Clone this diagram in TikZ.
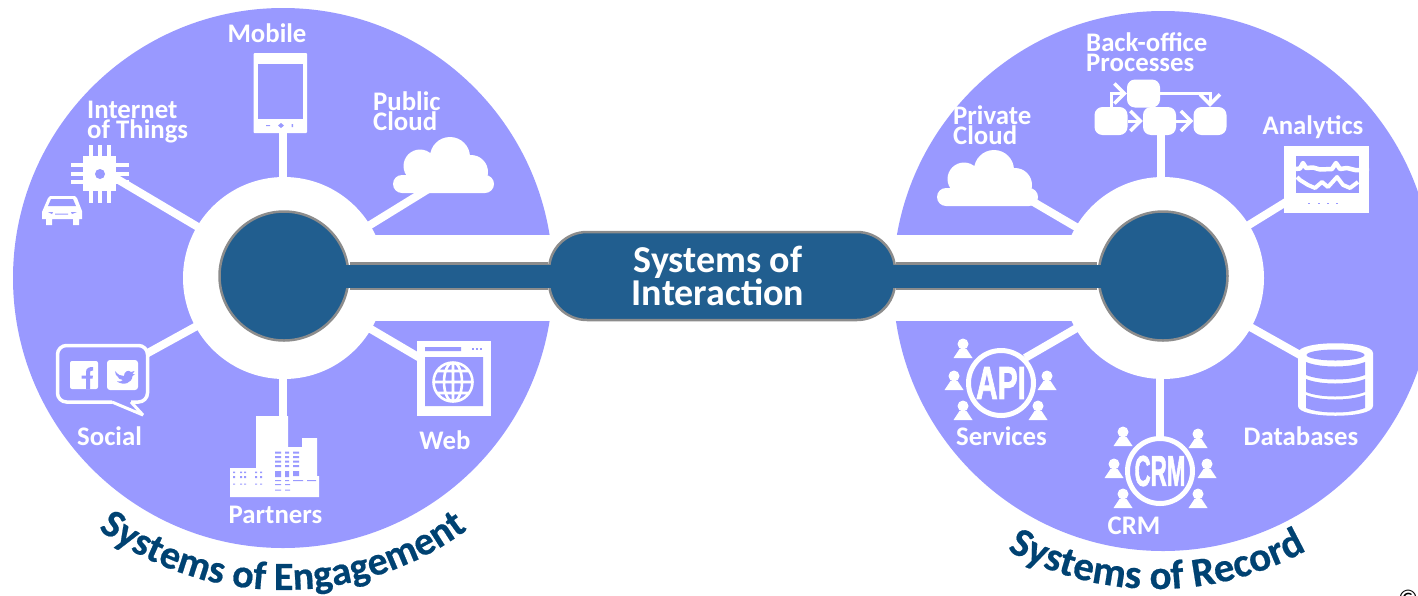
\documentclass[tikz,border=0pt]{standalone}
\usepackage{fontspec}
\usepackage{graphicx}
\setmainfont{Carlito}
\newfontfamily\capsfont[BoldFeatures={FakeBold=2}]{Liberation Sans}
\newfontfamily\titlefont[BoldFeatures={FakeBold=0.5}]{Carlito}
\usetikzlibrary{decorations.text,arrows.meta}
\definecolor{lav}{HTML}{9999FF}
\definecolor{hubblue}{HTML}{215E8F}
\definecolor{casing}{HTML}{8C8C8C}
\definecolor{titleblue}{HTML}{004272}
\tikzset{
  disc/.style={circle,fill=lav,minimum size=540pt,inner sep=0pt},
  ring/.style={circle,fill=white,minimum size=202pt,inner sep=0pt},
  hub/.style={circle,fill=hubblue,draw=casing,line width=2.5pt,minimum size=129pt,inner sep=0pt},
  spoke/.style={draw=white,line width=8pt},
  lbl/.style={text=white,inner sep=0pt,align=left,font=\fontsize{26.8}{20}\selectfont\bfseries},
  flowbox/.style={rectangle,fill=white,rounded corners=8pt,minimum width=33pt,minimum height=28pt,inner sep=0pt},
  flowarrow/.style={draw=white,line width=3pt,-{Straight Barb[length=10pt,width=20pt,line width=3.5pt]}},
  badge/.style={circle,draw=white,line width=5pt,minimum size=66pt,inner sep=0pt,text=white},
  curved/.style={decorate,decoration={text along path,text align={center},text color=titleblue}},
}
\newcommand{\cloudicon}[2]{%
  \begin{scope}[shift={(#1,#2)}]
    \fill[white] (9,-9) circle[radius=9pt] (27,-27) circle[radius=16.5pt] (57,-36) circle[radius=20pt]
      (78,-21) circle[radius=17pt] (92,-9) circle[radius=9pt] (9,-18) rectangle (92,0) (30,-30) rectangle (78,-15);
  \end{scope}}
\newcommand{\personicon}[2]{%
  \fill[white] (#1,#2) circle[radius=5.5pt];
  \fill[white] (#1-9.5,#2+14) -- (#1-3.5,#2+5) -- (#1+3.5,#2+5) -- (#1+9.5,#2+14) -- cycle;}
\begin{document}
\begin{tikzpicture}[x=1pt,y=-1pt]
\useasboundingbox (0,0) rectangle (1418,595);
\clip (0,0) rectangle (1418,595);
% discs
\node[disc] (discL) at (283,278) {};
\node[disc] (discR) at (1163,281) {};
\fill[white] (283,235) rectangle (1163,320.5);
% spoke ends
\coordinate (ringLc) at (284,278);
\coordinate (ringRc) at (1163,278);
\coordinate (eMobile) at (282.5,133);
\coordinate (eIot) at (112,176);
\coordinate (ePublic) at (430,188);
\coordinate (eSocial) at (146,354);
\coordinate (ePartners) at (282.5,418);
\coordinate (eWeb) at (420,358);
\coordinate (ePrivate) at (1030,200);
\coordinate (eBack) at (1160.5,133);
\coordinate (eAnalytics) at (1286,202);
\coordinate (eServices) at (1025,358);
\coordinate (eCrm) at (1160,440);
\coordinate (eDb) at (1300,355);
\foreach \e in {eIot,ePublic,eSocial,eWeb}{\draw[spoke] (ringLc) -- (\e);}
\foreach \e in {eMobile,ePartners}{\draw[spoke] (\e |- ringLc) -- (\e);}
\foreach \e in {ePrivate,eAnalytics,eServices,eDb}{\draw[spoke] (ringRc) -- (\e);}
\foreach \e in {eBack,eCrm}{\draw[spoke] (\e |- ringRc) -- (\e);}
\node[ring] (ringL) at (ringLc) {};
\node[ring] (ringR) at (ringRc) {};
% hubs and bar
\node[hub] (hubL) at (284,276) {};
\node[hub] (hubR) at (1163,276) {};
\node[rectangle,rounded corners=38pt,fill=hubblue,draw=casing,line width=2.5pt,minimum width=346pt,minimum height=88pt,inner sep=0pt] (pill) at (722,276) {};
\draw[draw=casing,line width=27.5pt] (hubL.east) -- (pill.west) (pill.east) -- (hubR.west);
\draw[draw=hubblue,line width=23pt] (hubL.center) -- (pill.center) -- (hubR.center);
\node[text=white,inner sep=0pt,align=center,font=\fontsize{38}{27.5}\selectfont\bfseries] (pilltext) at (718,276) {Systems of\\Interaction};
% tablet
\fill[white,rounded corners=1pt] (253.5,53) rectangle (307,133);
\fill[lav] (258,64) rectangle (303,119);
\fill[lav] (281,123) -- (284,125.5) -- (281,128) -- (278,125.5) -- cycle;
\fill[lav] (266,125) rectangle (270,126) (291.5,124) rectangle (293,127);
% chip
\fill[white] (83,156) rectangle (116,191);
\foreach \px in {89,98,107}{\fill[white] (\px,145) rectangle (\px+4,203);}
\foreach \py in {163,171.5,180}{\fill[white] (71,\py) rectangle (129,\py+4);}
\fill[lav] (100,174) circle[radius=5pt];
% car
\fill[white] (42,212) -- (48,198) -- (50,196) -- (75,196) -- (77,198) -- (82,211) -- (82,219) -- (79,219) -- (79,225) -- (73,225) -- (73,219) -- (52,219) -- (52,225) -- (46,225) -- (46,219) -- (42,219) -- cycle;
\fill[lav] (51,199) -- (73,199) -- (76,206) -- (48,206) -- cycle;
\fill[lav] (48,212) -- (53,212) -- (52,214) -- cycle (71,212) -- (77,212) -- (72,214) -- cycle (55,213.5) rectangle (68,214.5);
% public cloud
\cloudicon{393}{193}
% bubble
\draw[white,line width=3.5pt,fill=lav,rounded corners=9pt] (57.5,345.5) rectangle (147.5,402);
\fill[lav] (112,399) rectangle (131,404);
\draw[white,line width=3pt,line join=miter,miter limit=3] (112,402) -- (143,415) -- (131,402);
\fill[white,rounded corners=2pt] (70,361) rectangle (98,389);
\fill[white,rounded corners=3pt] (107,360) rectangle (138,390);
\fill[lav] (86,389) -- (86,378.5) -- (81.5,378.5) -- (81.5,375.5) -- (86,375.5) -- (86,372) .. controls (86,368) and (89,367) .. (93,367) -- (93,370.5) .. controls (90.5,370.5) and (90,371) .. (90,373) -- (90,375.5) -- (93,375.5) -- (92.5,378.5) -- (90,378.5) -- (90,389) -- cycle;
\fill[lav] (115,371) .. controls (118,375) and (121,376) .. (124,376) .. controls (124,372) and (128,369) .. (131,372) -- (134.5,371) -- (132.5,374) -- (135,374) -- (132.5,376) .. controls (132,383) and (124,386) .. (117,381.5) .. controls (120,382) and (122,381) .. (123,380) .. controls (120,380) and (118,378) .. (118,377) .. controls (116.5,376) and (115,374) .. (115,371) -- cycle;
% building
\fill[white] (256,416) rectangle (288,497) (230,468) rectangle (256,497) (288,447) rectangle (302,497) (302,438) rectangle (317,497) (288,476) rectangle (319,497);
\foreach \wy in {451.5,456,460.5,465}{\fill[lav] (275,\wy) rectangle (281,\wy+2) (285,\wy) rectangle (289,\wy+2) (293,\wy) rectangle (299,\wy+2);}
\fill[lav] (275,471) rectangle (281,477) (285,471) rectangle (289,477) (293,471) rectangle (299,476);
\fill[lav] (275,480) rectangle (281,481) (285,480) rectangle (289,481) (293,480) rectangle (303,481) (307,480) rectangle (316,481);
\fill[lav] (275,484) rectangle (281,485) (285,484) rectangle (290,485) (275,489.5) rectangle (281,490.5) (285,489.5) rectangle (290,490.5);
\foreach \dx in {233,240,244,255,260}{\fill[lav] (\dx,471.5) rectangle (\dx+2,473) (\dx,476) rectangle (\dx+2,478) (\dx,483.5) rectangle (\dx+2,484.5);}
% web
\fill[white] (417,341) rectangle (491,416);
\fill[lav] (425,347) rectangle (461,351) (425,357) rectangle (483,406);
\foreach \dx in {472,476,480}{\fill[lav] (\dx,347.5) rectangle (\dx+1.5,350);}
\draw[white,line width=2.6pt] (453,382) circle[radius=19.5pt] (453,382) ellipse[x radius=9pt,y radius=19.5pt] (453,362.5) -- (453,401.5) (433.5,382) -- (472.5,382) (437,371) -- (469,371) (437,393) -- (469,393);
% private cloud
\cloudicon{937}{206}
% back office
\node[flowbox] (bTop) at (1143.5,93.5) {};
\node[flowbox] (bLeft) at (1111,121) {};
\node[flowbox] (bMid) at (1159.5,121) {};
\node[flowbox] (bRight) at (1210,121) {};
\draw[flowarrow] (bLeft.north) |- (bTop.west);
\draw[flowarrow] (bLeft.east) -- (bMid.west);
\draw[flowarrow] (bMid.east) -- (bRight.west);
\draw[flowarrow] (bTop.east) -| (bRight.north);
% analytics
\fill[white] (1284,146) rectangle (1369,213);
\fill[lav] (1296,156) rectangle (1359,193);
\draw[white,line width=4.5pt,line join=round] (1296,169) -- (1300,168.5) -- (1303,163) -- (1306,168) -- (1313,167.5) -- (1320,169.5) -- (1332,169) -- (1336,163) -- (1340,169) -- (1347,168) -- (1355,170) -- (1369,170.5);
\draw[white,line width=4pt,line join=round] (1297,177) -- (1300,180) -- (1308,185) -- (1315,188) -- (1322,182) -- (1328,187) -- (1337,177) -- (1343,185) -- (1350,188) -- (1358,182);
\foreach \dx in {1308,1318,1327,1336}{\fill[lav] (\dx,202.5) rectangle (\dx+1.5,204);}
% services
\node[badge,minimum size=65pt] (api) at (1001,383) {\capsfont\bfseries\fontsize{46}{46}\selectfont\scalebox{0.65}[1]{API}};
\foreach \a/\b in {963/344,954/376,963/406,1047/376,1038/406}{\personicon{\a}{\b}}
% crm
\node[badge,minimum size=65pt] (crm) at (1160,471) {\capsfont\bfseries\fontsize{43}{43}\selectfont\scalebox{0.52}[1]{CRM}};
\foreach \a/\b in {1123/432,1114/464,1123/494,1198/434,1207/464,1198/494}{\personicon{\a}{\b}}
% database
\fill[white] (1298,353) .. controls (1298,340) and (1373,340) .. (1373,353) -- (1373,406) .. controls (1373,419) and (1298,419) .. (1298,406) -- cycle;
\fill[lav] (1335.5,355) ellipse[x radius=29pt,y radius=5.5pt];
\foreach \by in {362,379,395}{\fill[lav] (1306,\by) .. controls (1320,\by+6) and (1350,\by+6) .. (1365,\by) -- (1365,\by+13) .. controls (1350,\by+19) and (1320,\by+19) .. (1306,\by+13) -- cycle;}
% labels
\node[lbl] (tMobile) at (267,33) {Mobile};
\node[lbl,anchor=west] (tIot) at (87,122) {Internet\\of Things};
\node[lbl,anchor=west] (tPublic) at (373,111) {Public\\Cloud};
\node[lbl] (tSocial) at (109.5,436) {Social};
\node[lbl] (tPartners) at (275.5,515) {Partners};
\node[lbl] (tWeb) at (445,440) {Web};
\node[lbl,anchor=west] (tPrivate) at (953,125) {Private\\Cloud};
\node[lbl,anchor=west] (tBack) at (1086,52.5) {Back-office\\Processes};
\node[lbl] (tAnalytics) at (1313,127) {Analytics};
\node[lbl] (tServices) at (1001.5,436) {Services};
\node[lbl] (tDb) at (1301,436) {Databases};
\node[lbl] (tCrm) at (1134,526) {CRM};
% curved titles
\path[curved,decoration={text={|\titlefont\fontsize{40}{40}\selectfont\bfseries|Systems of Engagement}}] plot[domain=222:318,samples=60] ({283+312*cos(\x)},{278-312*sin(\x)});
\path[curved,decoration={text={|\titlefont\fontsize{41}{41}\selectfont\bfseries|Systems of Record}}] plot[domain=225:315,samples=60] ({1157+310*cos(\x)},{279-310*sin(\x)});
\node[inner sep=0pt,font=\fontsize{24}{24}\selectfont] (copyr) at (1408,598) {©};
\end{tikzpicture}
\end{document}
